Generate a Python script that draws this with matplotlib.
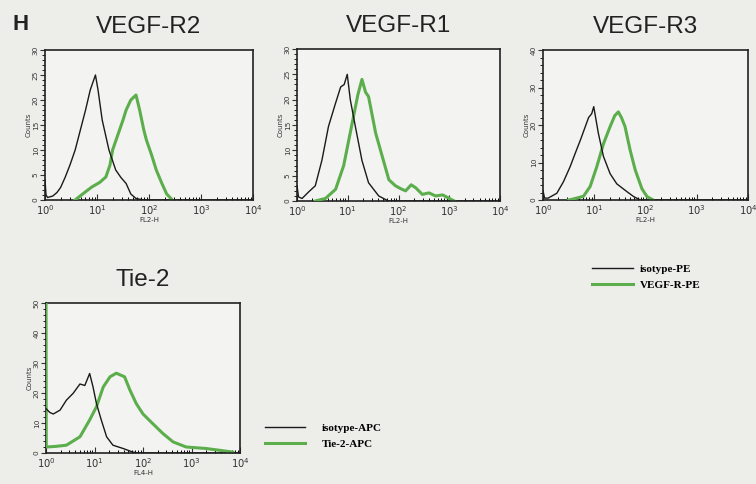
import matplotlib
matplotlib.use("Agg")
import numpy as np
import matplotlib.pyplot as plt
from matplotlib.lines import Line2D
from matplotlib.ticker import MultipleLocator, LogLocator, NullFormatter

# flow cytometry histograms, x in log10 decades of fluorescence, y = counts
r2_iso_log = [0.0, 0.02, 0.05, 0.15, 0.23, 0.3, 0.39, 0.48, 0.58, 0.68, 0.78, 0.87, 0.92, 0.97, 1.02, 1.1, 1.23, 1.36, 1.46, 1.56, 1.65, 1.75, 1.9, 4.0]
r2_iso_cnt = [4.0, 1.0, 0.5, 0.8, 1.5, 2.5, 4.6, 7.0, 10.0, 14.0, 18.0, 22.0, 23.5, 25.0, 22.0, 16.0, 10.0, 6.0, 4.5, 3.3, 1.2, 0.3, 0.0, 0.0]
r2_pos_log = [0.58, 0.7, 0.9, 1.05, 1.17, 1.25, 1.3, 1.4, 1.5, 1.56, 1.65, 1.75, 1.82, 1.9, 1.95, 2.05, 2.14, 2.24, 2.34, 2.45]
r2_pos_cnt = [0.0, 1.0, 2.6, 3.5, 4.6, 7.0, 10.0, 13.0, 16.0, 18.0, 20.0, 21.0, 18.0, 14.0, 12.0, 9.0, 6.0, 3.5, 1.2, 0.0]

r1_iso_log = [0.0, 0.03, 0.1, 0.23, 0.36, 0.49, 0.62, 0.75, 0.86, 0.93, 0.99, 1.05, 1.15, 1.28, 1.41, 1.61, 1.8, 4.0]
r1_iso_cnt = [3.0, 0.8, 0.5, 1.8, 3.0, 8.0, 14.7, 19.0, 22.5, 23.0, 25.0, 20.0, 14.7, 8.0, 3.6, 1.0, 0.0, 0.0]
r1_pos_log = [0.36, 0.56, 0.76, 0.92, 1.02, 1.12, 1.2, 1.28, 1.35, 1.41, 1.55, 1.68, 1.81, 1.94, 2.05, 2.14, 2.25, 2.34, 2.47, 2.6, 2.73, 2.87, 3.0, 3.1]
r1_pos_cnt = [0.0, 0.5, 2.3, 7.0, 12.0, 17.0, 21.0, 24.0, 21.5, 20.6, 13.4, 8.8, 4.2, 3.0, 2.4, 2.0, 3.2, 2.6, 1.3, 1.6, 1.0, 1.2, 0.5, 0.0]

r3_iso_log = [0.0, 0.03, 0.1, 0.27, 0.4, 0.53, 0.63, 0.73, 0.89, 0.95, 0.99, 1.08, 1.18, 1.31, 1.44, 1.64, 1.77, 1.9, 4.0]
r3_iso_cnt = [2.5, 0.5, 0.5, 1.8, 4.9, 8.9, 12.5, 16.0, 22.0, 23.0, 24.9, 17.8, 11.6, 7.0, 4.3, 2.2, 0.9, 0.0, 0.0]
r3_pos_log = [0.5, 0.6, 0.79, 0.92, 1.05, 1.18, 1.31, 1.4, 1.47, 1.53, 1.6, 1.7, 1.8, 1.93, 2.03, 2.15]
r3_pos_cnt = [0.0, 0.3, 1.0, 3.6, 8.9, 15.0, 19.6, 22.5, 23.5, 22.0, 19.6, 13.3, 8.0, 3.0, 0.9, 0.0]

tie_iso_log = [0.0, 0.08, 0.15, 0.29, 0.42, 0.56, 0.7, 0.8, 0.9, 0.97, 1.04, 1.14, 1.25, 1.38, 1.59, 1.79, 1.9, 4.0]
tie_iso_cnt = [14.8, 13.5, 13.0, 14.3, 17.6, 19.9, 23.0, 22.5, 26.5, 22.0, 16.5, 11.0, 5.4, 2.6, 1.5, 0.3, 0.0, 0.0]
tie_pos_log = [0.0, 0.005, 0.2, 0.42, 0.7, 0.9, 1.04, 1.18, 1.32, 1.45, 1.62, 1.73, 1.86, 2.0, 2.2, 2.41, 2.62, 2.89, 3.3, 3.58, 3.85]
tie_pos_cnt = [60.0, 2.0, 2.2, 2.6, 5.4, 11.0, 15.4, 22.0, 25.4, 26.6, 25.4, 21.0, 16.5, 13.0, 9.8, 6.5, 3.7, 2.0, 1.5, 0.9, 0.3]

panels = [
    # title, iso, pos, ymax, major, minor, xlabel, rect
    ("VEGF-R2", (r2_iso_log, r2_iso_cnt), (r2_pos_log, r2_pos_cnt), 30, 5, 1, "FL2-H", [45, 50, 253, 200]),
    ("VEGF-R1", (r1_iso_log, r1_iso_cnt), (r1_pos_log, r1_pos_cnt), 30, 5, 1, "FL2-H", [297, 49, 500, 201]),
    ("VEGF-R3", (r3_iso_log, r3_iso_cnt), (r3_pos_log, r3_pos_cnt), 40, 10, 2, "FL2-H", [543, 50, 748, 200]),
    ("Tie-2", (tie_iso_log, tie_iso_cnt), (tie_pos_log, tie_pos_cnt), 50, 10, 2, "FL4-H", [46, 303, 240, 453]),
]

W, H = 756, 484
bg = "#ededea"
green = "#5cae4c"

fig = plt.figure(figsize=(W / 100, H / 100), dpi=100, facecolor=bg)

for title, iso, pos, ymax, major, minor, xlab, (x0, y0, x1, y1) in panels:
    ax = fig.add_axes([x0 / W, 1 - y1 / H, (x1 - x0) / W, (y1 - y0) / H])
    ax.set_facecolor("#f3f3f1")
    ax.plot(10 ** np.array(pos[0]), pos[1], color=green, lw=2.2, zorder=3)
    ax.plot(10 ** np.array(iso[0]), iso[1], color="#1a1a1a", lw=1.0, zorder=4)
    ax.set_xscale("log")
    ax.set_xlim(1, 1e4)
    ax.set_ylim(0, ymax)
    ax.xaxis.set_major_locator(LogLocator(base=10, numticks=6))
    ax.xaxis.set_minor_locator(LogLocator(base=10, subs=np.arange(2, 10), numticks=10))
    ax.xaxis.set_minor_formatter(NullFormatter())
    ax.yaxis.set_major_locator(MultipleLocator(major))
    ax.yaxis.set_minor_locator(MultipleLocator(minor))
    ax.tick_params(axis="x", which="major", direction="in", length=4, width=0.8, labelsize=7.2, pad=2, colors="#333333")
    ax.tick_params(axis="x", which="minor", direction="in", length=2.5, width=0.7)
    ax.tick_params(axis="y", which="major", direction="out", length=3.5, width=0.8, labelsize=5.3, pad=1, colors="#333333")
    ax.tick_params(axis="y", which="minor", direction="out", length=2, width=0.6)
    for lab in ax.get_yticklabels():
        lab.set_rotation(90)
        lab.set_va("center")
    for sp in ax.spines.values():
        sp.set_linewidth(1.2)
        sp.set_color("#222222")
    ax.set_xlabel(xlab, fontsize=5, labelpad=0, color="#333333")
    ax.set_ylabel("Counts", fontsize=5, labelpad=1, color="#333333")
    ax.set_title(title, fontsize=17.5, family="Liberation Sans", color="#222222", pad=12)

fig.text(12 / W, 1 - 25 / H, "H", fontsize=16, fontweight="bold", family="Liberation Sans",
         color="#222222", va="center", ha="left")

leg_font = {"family": "Liberation Serif", "weight": "bold", "size": 8}
h_iso = Line2D([], [], color="#1a1a1a", lw=1.0)
h_pos = Line2D([], [], color=green, lw=2.2)

fig.legend([h_iso, h_pos], ["isotype-PE", "VEGF-R-PE"], loc="upper left",
           bbox_to_anchor=(592 / W, 1 - 264 / H), frameon=False, prop=leg_font,
           handlelength=3.7, handletextpad=0.6, labelspacing=0.55, borderpad=0, borderaxespad=0)
fig.legend([h_iso, h_pos], ["isotype-APC", "Tie-2-APC"], loc="upper left",
           bbox_to_anchor=(265 / W, 1 - 423 / H), frameon=False, prop=leg_font,
           handlelength=3.6, handletextpad=1.5, labelspacing=0.6, borderpad=0, borderaxespad=0)

fig.savefig("out.png", dpi=100, facecolor=bg)
